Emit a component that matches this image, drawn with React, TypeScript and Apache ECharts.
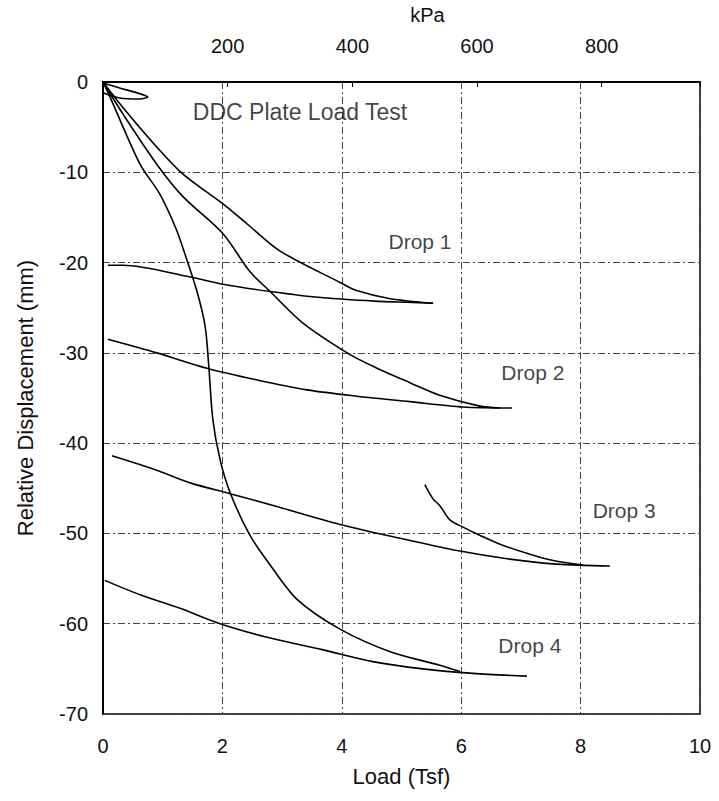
import React, { useEffect, useRef } from "react";
import * as echarts from "echarts";

// Load (Tsf) vs relative displacement (mm)
const seatingLoop: number[][] = [
  [0, -0.1], [0.28, -0.66], [0.62, -1.3], [0.75, -1.66], [0.62, -1.88], [0.28, -1.77], [0, -1.2],
];
const drop1Loading: number[][] = [
  [0, 0], [0.33, -2.8], [0.9, -7.2], [1.34, -10.2], [2.01, -13.5], [2.41, -15.7], [2.96, -18.7],
  [3.97, -22.2], [4.25, -23.1], [4.81, -24.0], [5.53, -24.5],
];
const drop1Unloading: number[][] = [
  [0.08, -20.3], [0.33, -20.3], [1.46, -21.6], [2.01, -22.4], [2.8, -23.2], [3.69, -23.9],
  [4.65, -24.3], [5.1, -24.4], [5.53, -24.5],
];
const drop2Loading: number[][] = [
  [0, 0], [0.33, -3.5], [0.9, -9.1], [1.34, -12.7], [2.01, -16.8], [2.46, -21.0], [2.8, -23.2],
  [3.35, -26.7], [4.14, -30.2], [4.59, -31.7], [5.14, -33.3], [5.64, -34.7], [6.31, -35.9], [6.65, -36.1],
];
const drop2Unloading: number[][] = [
  [0.08, -28.5], [0.9, -30.0], [1.74, -31.7], [2.58, -33.0], [3.42, -34.1], [4.25, -34.8],
  [5.14, -35.4], [6.03, -36.0], [6.85, -36.1],
];
const drop3Loading: number[][] = [
  [5.39, -44.6], [5.53, -46.2], [5.64, -46.9], [5.81, -48.5], [6.03, -49.3], [6.31, -50.2],
  [6.65, -51.2], [7.15, -52.3], [7.54, -53.0], [8.04, -53.5],
];
const drop3Unloading: number[][] = [
  [0.15, -41.4], [0.9, -43.0], [1.46, -44.4], [2.13, -45.6], [2.85, -46.9], [3.97, -49.0],
  [5.09, -50.7], [5.93, -51.9], [6.77, -52.8], [7.6, -53.4], [8.49, -53.6],
];
const drop4Loading: number[][] = [
  [0, 0], [0.12, -1.7], [0.62, -9.1], [0.95, -12.4], [1.22, -16.2], [1.37, -19.0], [1.57, -23.1],
  [1.71, -27.0], [1.77, -31.3], [1.84, -37.4], [1.96, -41.8], [2.13, -45.5], [2.46, -50.2], [2.8, -53.5],
  [3.25, -57.3], [3.97, -60.6], [4.81, -63.1], [5.64, -64.6], [5.98, -65.3],
];
const drop4Unloading: number[][] = [
  [0.03, -55.2], [0.62, -56.8], [1.29, -58.3], [1.96, -60.0], [2.75, -61.5], [3.69, -62.9],
  [4.52, -64.2], [5.36, -65.0], [6.2, -65.5], [7.1, -65.8],
];

const annotationNames: string[] = ["DDC Plate Load Test", "Drop 1", "Drop 2", "Drop 3", "Drop 4"];
const annotationPoints: number[][] = [[3.3, -3.3], [5.31, -17.7], [7.2, -32.2], [8.73, -47.5], [7.15, -62.4]];
const annotationSizes: number[] = [23, 21, 21, 21, 21];

const loadTicks: number[] = [0, 2, 4, 6, 8, 10];
const dispMin = -70;
const dispMax = 0;
const kPaPerTsf = 95.76;
const kPaTicks: number[] = [200, 400, 600, 800];

const FONT = "Liberation Sans, Arial, sans-serif";

export default function App() {
  const ref = useRef<HTMLDivElement>(null);
  useEffect(() => {
    if (!ref.current) return;
    const chart = echarts.init(ref.current, null, { renderer: "svg" });
    const curves = [
      seatingLoop, drop1Loading, drop1Unloading, drop2Loading, drop2Unloading,
      drop3Loading, drop3Unloading, drop4Loading, drop4Unloading,
    ];
    const splitStyle = { show: true, lineStyle: { color: "#444", width: 1, type: [7, 3, 2, 3] as any } };
    chart.setOption({
      animation: false,
      backgroundColor: "#fff",
      grid: { left: 103, right: 19, top: 77, bottom: 87, show: true, borderColor: "#000", borderWidth: 1.5 },
      xAxis: [
        {
          type: "value",
          min: loadTicks[0],
          max: loadTicks[loadTicks.length - 1],
          interval: 2,
          name: "Load (Tsf)",
          nameLocation: "middle",
          nameGap: 51,
          nameTextStyle: { fontFamily: FONT, fontSize: 22, color: "#111" },
          axisLine: { show: true, lineStyle: { color: "#000", width: 2 } },
          axisTick: { show: false },
          axisLabel: { fontFamily: FONT, fontSize: 20, color: "#111", margin: 22 },
          splitLine: splitStyle,
        },
        {
          type: "value",
          position: "top",
          min: 0,
          max: loadTicks[loadTicks.length - 1] * kPaPerTsf,
          interval: 200,
          name: "kPa",
          nameLocation: "middle",
          nameGap: 57,
          nameTextStyle: { fontFamily: FONT, fontSize: 20, color: "#111", padding: [0, 0, 0, 52] },
          axisLine: { show: true, lineStyle: { color: "#000", width: 1.5 } },
          axisTick: { show: true, inside: true, length: 5, lineStyle: { color: "#000" } },
          axisLabel: {
            fontFamily: FONT,
            fontSize: 20,
            color: "#111",
            margin: 26,
            formatter: (v: number) => (kPaTicks.includes(v) ? String(v) : ""),
          },
          splitLine: { show: false },
        },
      ],
      yAxis: {
        type: "value",
        min: dispMin,
        max: dispMax,
        interval: 10,
        name: "Relative Displacement (mm)",
        nameLocation: "middle",
        nameGap: 67,
        nameTextStyle: { fontFamily: FONT, fontSize: 22, color: "#111" },
        axisLine: { show: true, lineStyle: { color: "#000", width: 2 } },
        axisTick: { show: false },
        axisLabel: { fontFamily: FONT, fontSize: 20, color: "#111", margin: 15 },
        splitLine: splitStyle,
      },
      series: [
        ...curves.map((d) => ({
          type: "line",
          data: d,
          showSymbol: false,
          symbol: "none",
          smooth: 0.3,
          lineStyle: { color: "#000", width: 1.6 },
          silent: true,
        })),
        {
          type: "scatter",
          symbolSize: 0,
          data: annotationPoints.map((p, i) => ({
            value: p,
            name: annotationNames[i],
            label: { fontSize: annotationSizes[i] },
          })),
          label: {
            show: true,
            position: "inside",
            formatter: (p: any) => p.name,
            fontFamily: FONT,
            fontSize: 21,
            color: "#111",
          },
          silent: true,
        },
      ],
    });
    return () => chart.dispose();
  }, []);
  return <div ref={ref} style={{ position: "absolute", left: 0, top: 0, width: 719, height: 801 }} />;
}
